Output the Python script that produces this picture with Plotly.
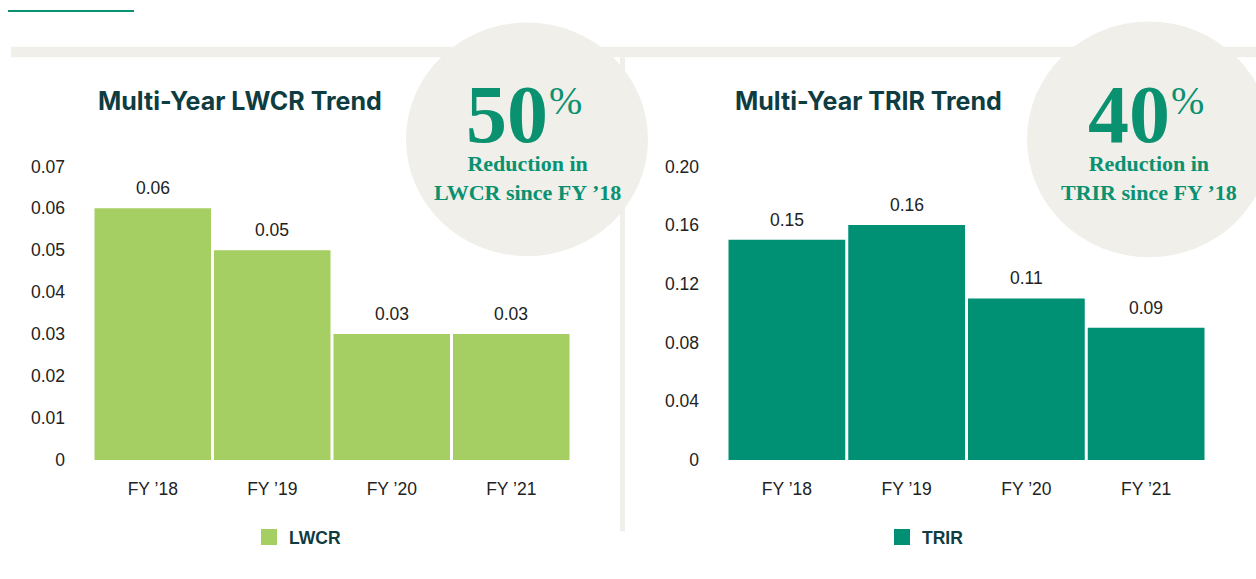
import plotly.graph_objects as go

W, H = 1256, 579

# ---- data ----
categories = ["FY ’18", "FY ’19", "FY ’20", "FY ’21"]
lwcr_values = [0.06, 0.05, 0.03, 0.03]
trir_values = [0.15, 0.16, 0.11, 0.09]
lwcr_labels = ["0.06", "0.05", "0.03", "0.03"]
trir_labels = ["0.15", "0.16", "0.11", "0.09"]
lwcr_tickvals = [0, 0.01, 0.02, 0.03, 0.04, 0.05, 0.06, 0.07]
lwcr_ticktext = ["0", "0.01", "0.02", "0.03", "0.04", "0.05", "0.06", "0.07"]
trir_tickvals = [0, 0.04, 0.08, 0.12, 0.16, 0.20]
trir_ticktext = ["0", "0.04", "0.08", "0.12", "0.16", "0.20"]

LIGHT_GREEN = "#a6cf63"
TEAL = "#009174"
DARK = "#0e3c41"
CIRCLE_GREEN = "#0a9170"
BEIGE = "#f0efea"
TEXT = "#222222"


def X(px):
    return px / W


def Y(py):
    return 1 - py / H


fig = go.Figure()

fig.add_trace(go.Bar(x=categories, y=lwcr_values, marker=dict(color=LIGHT_GREEN, line=dict(width=0)),
                     name="LWCR", showlegend=False, xaxis="x", yaxis="y", hoverinfo="x+y"))
fig.add_trace(go.Bar(x=categories, y=trir_values, marker=dict(color=TEAL, line=dict(width=0)),
                     name="TRIR", showlegend=False, xaxis="x2", yaxis="y2", hoverinfo="x+y"))
# legend entries
fig.add_trace(go.Scatter(x=[None], y=[None], mode="markers", name="LWCR",
                         marker=dict(symbol="square", size=16, color=LIGHT_GREEN),
                         xaxis="x", yaxis="y", legend="legend"))
fig.add_trace(go.Scatter(x=[None], y=[None], mode="markers", name="TRIR",
                         marker=dict(symbol="square", size=16, color=TEAL),
                         xaxis="x2", yaxis="y2", legend="legend2"))

tickfont = dict(family="Liberation Sans, Arial, sans-serif", size=17.5, color=TEXT)

common_x = dict(type="category", showgrid=False, zeroline=False, showline=False, ticks="",
                tickfont=tickfont, ticklabelstandoff=17, range=[-0.5, 3.5], fixedrange=True)
common_y = dict(showgrid=False, zeroline=False, showline=False, ticks="", tickfont=tickfont,
                ticklabelstandoff=27, fixedrange=True)

legend_font = dict(family="Liberation Sans, Arial, sans-serif", size=17.5, color=DARK, weight="bold")

fig.update_layout(
    width=W, height=H, autosize=False,
    margin=dict(l=0, r=0, t=0, b=0),
    paper_bgcolor="white", plot_bgcolor="rgba(0,0,0,0)",
    bargap=0.025,
    xaxis=dict(domain=[X(93), X(571)], anchor="y", **common_x),
    yaxis=dict(domain=[Y(466), Y(162)], anchor="x", range=[0, 0.07],
               tickvals=lwcr_tickvals, ticktext=lwcr_ticktext, **common_y),
    xaxis2=dict(domain=[X(727), X(1206)], anchor="y2", **common_x),
    yaxis2=dict(domain=[Y(466), Y(162)], anchor="x2", range=[0, 0.20],
                tickvals=trir_tickvals, ticktext=trir_ticktext, **common_y),
    legend=dict(x=X(249), y=Y(546), xanchor="left", yanchor="middle", orientation="h",
                font=legend_font, bgcolor="rgba(0,0,0,0)"),
    legend2=dict(x=X(882), y=Y(546), xanchor="left", yanchor="middle", orientation="h",
                 font=legend_font, bgcolor="rgba(0,0,0,0)"),
)

shapes = [
    # top-left accent line
    dict(type="rect", xref="paper", yref="paper", x0=X(8), x1=X(134), y0=Y(2), y1=Y(0),
         fillcolor=CIRCLE_GREEN, line=dict(width=0), layer="below"),
    # horizontal band
    dict(type="rect", xref="paper", yref="paper", x0=X(11), x1=1, y0=Y(49), y1=Y(38),
         fillcolor=BEIGE, line=dict(width=0), layer="below"),
    # vertical divider
    dict(type="rect", xref="paper", yref="paper", x0=X(620), x1=X(625), y0=Y(540), y1=Y(49),
         fillcolor=BEIGE, line=dict(width=0), layer="below"),
]
for cx, cy, r in [(527, 134, 121), (1149, 134, 122)]:
    shapes.append(dict(type="circle", xref="paper", yref="paper",
                       x0=X(cx - r), x1=X(cx + r), y0=Y(cy + r), y1=Y(cy - r),
                       fillcolor=BEIGE, line=dict(width=0), layer="below"))
fig.update_layout(shapes=shapes)

ann = []
# titles
title_font = dict(family="Inter, Roboto, sans-serif", size=25, color=DARK, weight="bold")
ann.append(dict(text="Multi-Year LWCR Trend", x=X(96), y=Y(94), xref="paper", yref="paper",
                xanchor="left", yanchor="middle", showarrow=False, font=title_font))
ann.append(dict(text="Multi-Year TRIR Trend", x=X(733), y=Y(94), xref="paper", yref="paper",
                xanchor="left", yanchor="middle", showarrow=False, font=title_font))

# circle texts
serif = "Liberation Serif, DejaVu Serif, serif"
for cx, num, metric in [(527, "50", "LWCR"), (1149, "40", "TRIR")]:
    ann.append(dict(text=num, x=X(cx - 20), y=Y(108), xref="paper", yref="paper",
                    xanchor="center", yanchor="middle", showarrow=False,
                    font=dict(family=serif, size=82, color=CIRCLE_GREEN, weight="bold")))
    ann.append(dict(text="%", x=X(cx + 20), y=Y(94), xref="paper", yref="paper",
                    xanchor="left", yanchor="middle", showarrow=False,
                    font=dict(family=serif, size=40, color=CIRCLE_GREEN)))
    ann.append(dict(text=f"Reduction in<br>{metric} since FY ’18", x=X(cx), y=Y(174),
                    xref="paper", yref="paper", xanchor="center", yanchor="middle",
                    showarrow=False, align="center",
                    font=dict(family=serif, size=22, color=CIRCLE_GREEN, weight="bold")))

# bar value labels
for xa, ya, vals, labs in [("x", "y", lwcr_values, lwcr_labels), ("x2", "y2", trir_values, trir_labels)]:
    for c, v, l in zip(categories, vals, labs):
        ann.append(dict(text=l, x=c, y=v, xref=xa, yref=ya, xanchor="center", yanchor="bottom",
                        yshift=8, showarrow=False, font=tickfont))

fig.update_layout(annotations=ann)

post = (
    "document.documentElement.style.margin='0';"
    "document.body.style.margin='0';document.body.style.padding='0';"
    "document.body.style.overflow='hidden';"
    "var gd=document.getElementsByClassName('plotly-graph-div')[0];"
    "gd.style.position='absolute';gd.style.top='0px';gd.style.left='0px';"
)
fig.write_html("out.html", config={"displayModeBar": False, "responsive": False},
               post_script=post)
